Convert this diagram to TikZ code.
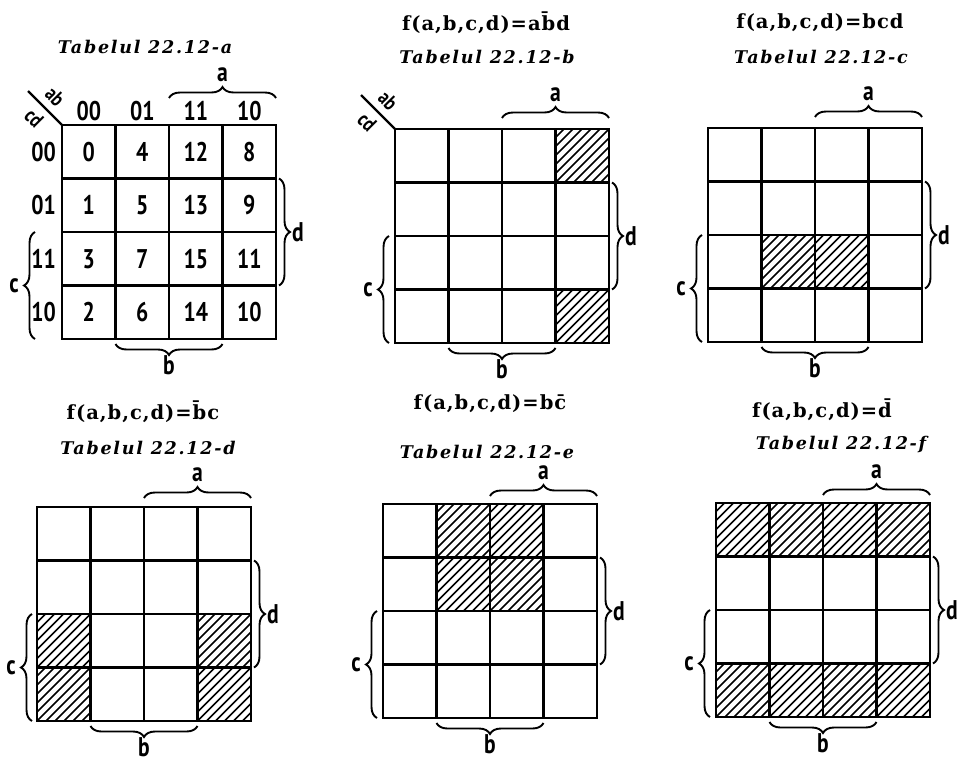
\documentclass[tikz,border=0pt]{standalone}
\usepackage{fontspec}
\usetikzlibrary{decorations.pathreplacing}
\newfontfamily\labfont[FakeStretch=0.8]{PT Sans}
\newfontfamily\formfont[LetterSpace=5]{DejaVu Serif}
\newfontfamily\titfont[LetterSpace=10]{DejaVu Serif}
\def\cs{53.5}
\tikzset{
  gridline/.style={line width=2.6pt, line cap=rect},
  hatchline/.style={line width=1.5pt},
  diagline/.style={line width=2.2pt},
  brc/.style={decorate, decoration={brace, amplitude=11pt}, line width=1.9pt},
  lab/.style={font=\labfont\bfseries\fontsize{27}{27}\selectfont, inner sep=0pt},
  diaglab/.style={font=\labfont\bfseries\fontsize{21}{21}\selectfont, inner sep=0pt, rotate=-45},
  formula/.style={font=\formfont\bfseries\fontsize{19.5}{19.5}\selectfont, inner sep=0pt},
  titlelab/.style={font=\titfont\bfseries\itshape\fontsize{17.5}{17.5}\selectfont, inner sep=0pt},
}
\newcommand\kmapgrid[2]{%
  \draw[gridline] (#1,#2) rectangle ({#1+4*\cs},{#2+4*\cs});
  \foreach \i in {1,2,3}{%
    \draw[gridline] ({#1+\i*\cs},#2) -- ({#1+\i*\cs},{#2+4*\cs});
    \draw[gridline] (#1,{#2+\i*\cs}) -- ({#1+4*\cs},{#2+\i*\cs});
  }%
}
\newcommand\hcell[4]{%
  \begin{scope}
    \clip ({#1+(#3-1)*\cs},{#2+(#4-1)*\cs}) rectangle ++(\cs,\cs);
    \foreach \t in {-54,-45,...,54}{%
      \draw[hatchline] ({#1+(#3-1)*\cs+\t},{#2+#4*\cs}) -- ++(\cs,-\cs);
    }%
  \end{scope}
}
\newcommand\kmapbraces[5]{%
  \draw[brc] ({#1+2*\cs},{#2-#4}) -- ({#1+4*\cs},{#2-#4});
  \node[lab] (#3-a) at ({#1+3*\cs},{#2-#4-23}) {a};
  \draw[brc] ({#1+4*\cs+3},{#2+\cs}) -- ({#1+4*\cs+3},{#2+3*\cs});
  \node[lab] (#3-d) at ({#1+4*\cs+22},{#2+2*\cs}) {d};
  \draw[brc] ({#1-#5},{#2+4*\cs}) -- ({#1-#5},{#2+2*\cs});
  \node[lab] (#3-c) at ({#1-#5-21},{#2+3*\cs}) {c};
  \draw[brc] ({#1+3*\cs},{#2+4*\cs+5}) -- ({#1+\cs},{#2+4*\cs+5});
  \node[lab] (#3-b) at ({#1+2*\cs},{#2+4*\cs+26}) {b};
}
\newcommand\kmapdiag[3]{%
  \coordinate (#3-corner) at (#1,#2);
  \coordinate (#3-dg) at ({#1-34},{#2-34});
  \draw[diagline] (#3-corner) -- (#3-dg);
  \node[diaglab] (#3-ab) at ({#1-7},{#2-28}) {ab};
  \node[diaglab] (#3-cd) at ({#1-28},{#2-7}) {cd};
}
\begin{document}
\begin{tikzpicture}[x=1pt,y=-1pt]
\fill[white] (0,0) rectangle (960,760);
\useasboundingbox (0,0) rectangle (960,760);

% ---------- panel a ----------
\node[titlelab] (ta) at (145,47) {Tabelul 22.12-a};
\kmapgrid{62}{125}
\kmapdiag{62}{125}{pa}
\foreach \t [count=\i] in {00,01,11,10}{%
  \node[lab] (hc\i) at ({62+(\i-0.5)*\cs},111) {\t};
  \node[lab, anchor=east] (hr\i) at (56,{125+(\i-0.5)*\cs}) {\t};
}
\foreach \n [count=\k from 0] in {0,4,12,8,1,5,13,9,3,7,15,11,2,6,14,10}{%
  \pgfmathtruncatemacro\cc{mod(\k,4)}
  \pgfmathtruncatemacro\rr{div(\k,4)}
  \node[lab] (n\n) at ({62+(\cc+0.5)*\cs},{125+(\rr+0.5)*\cs}) {\n};
}
\kmapbraces{62}{125}{pa}{27}{27}

% ---------- panel b ----------
\node[formula] (fb) at (486,23) {f(a,b,c,d)=a\={b}d};
\node[titlelab] (tb) at (487,57) {Tabelul 22.12-b};
\hcell{395}{129}{4}{1}
\hcell{395}{129}{4}{4}
\kmapgrid{395}{129}
\kmapdiag{395}{129}{pb}
\kmapbraces{395}{129}{pb}{11}{6}

% ---------- panel c ----------
\node[formula] (fc) at (820,23) {f(a,b,c,d)=bcd};
\node[titlelab] (tc) at (821,57) {Tabelul 22.12-c};
\hcell{708}{128}{2}{3}
\hcell{708}{128}{3}{3}
\kmapgrid{708}{128}
\kmapbraces{708}{128}{pc}{11}{6}

% ---------- panel d ----------
\node[formula] (fd) at (143,412) {f(a,b,c,d)=\={b}c};
\node[titlelab] (td) at (148,448) {Tabelul 22.12-d};
\hcell{37}{507}{1}{3}
\hcell{37}{507}{1}{4}
\hcell{37}{507}{4}{3}
\hcell{37}{507}{4}{4}
\kmapgrid{37}{507}
\kmapbraces{37}{507}{pd}{9}{5}

% ---------- panel e ----------
\node[formula] (fe) at (490,404) {f(a,b,c,d)=b\={c}};
\node[titlelab] (te) at (487,452) {Tabelul 22.12-e};
\hcell{383}{504}{2}{1}
\hcell{383}{504}{3}{1}
\hcell{383}{504}{2}{2}
\hcell{383}{504}{3}{2}
\kmapgrid{383}{504}
\kmapbraces{383}{504}{pe}{8}{6}

% ---------- panel f ----------
\node[formula] (ff) at (822,410) {f(a,b,c,d)=\={d}};
\node[titlelab] (tf) at (841,445) {Tabelul 22.12-f};
\foreach \c in {1,2,3,4}{%
  \hcell{716}{503}{\c}{1}
  \hcell{716}{503}{\c}{4}
}
\kmapgrid{716}{503}
\kmapbraces{716}{503}{pf}{8}{6}
\end{tikzpicture}
\end{document}
